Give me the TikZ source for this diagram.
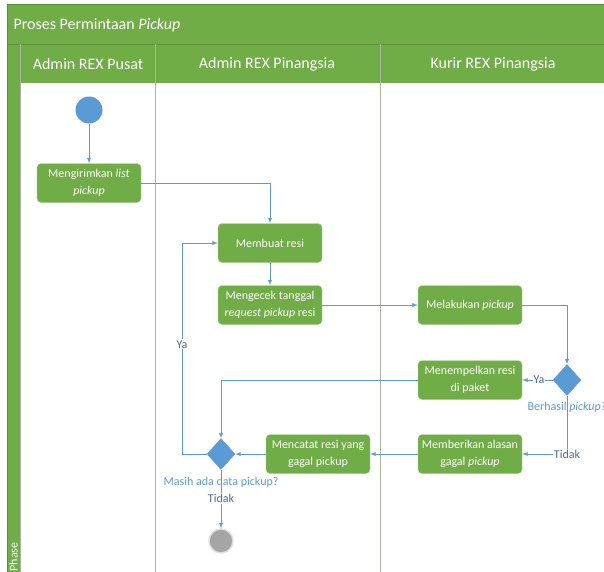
\documentclass[tikz,border=0pt]{standalone}
\usepackage{fontspec}
\setmainfont{Carlito}
\usetikzlibrary{shapes.geometric, positioning, arrows}
\definecolor{lanegreen}{HTML}{70AD47}
\definecolor{edgegreen}{HTML}{5A8F38}
\definecolor{flowblue}{HTML}{5B9BD5}
\definecolor{lblblue}{HTML}{4D6D93}
\definecolor{lanegray}{HTML}{A9B4A2}
\definecolor{endgray}{HTML}{A5A5A5}
\tikzset{
    >=latex,
    node distance=2cm,
    activity/.style={rectangle, rounded corners=4pt, fill=lanegreen, draw=lanegreen!55!white,
        text=white, minimum width=104pt, minimum height=39pt, inner sep=2pt, align=center,
        font=\fontsize{12}{16.5}\selectfont},
    decision/.style={diamond, fill=flowblue, draw=flowblue, inner sep=0pt,
        minimum width=28pt, minimum height=31pt},
    initialdot/.style={circle, fill=flowblue, inner sep=0pt, minimum size=27pt},
    finaldot/.style={circle, fill=endgray, draw=gray!25, line width=1.5pt, inner sep=0pt, minimum size=24pt},
    flow/.style={->, color=flowblue, line width=0.9pt},
    guard/.style={text=lblblue, fill=white, inner sep=1pt, font=\fontsize{12}{14}\selectfont},
    question/.style={text=flowblue, font=\fontsize{12}{14}\selectfont},
    lanetext/.style={text=white, font=\fontsize{16}{18}\selectfont},
    hv/.style={to path={-| (\tikztotarget) \tikztonodes}},
    vh/.style={to path={|- (\tikztotarget) \tikztonodes}},
}

\begin{document}
\begin{tikzpicture}[x=1pt, y=-1pt]
    \useasboundingbox (0,0) rectangle (604,571);

    % pool and lanes
    \fill[lanegreen] (7,4) rectangle (620,83);
    \fill[lanegreen] (7,83) rectangle (20,600);
    \draw[edgegreen, line width=0.6pt] (7,600) -- (7,4) -- (620,4);
    \draw[edgegreen, line width=0.6pt] (7,44) -- (620,44);
    \draw[lanegray, line width=0.8pt] (20,44) -- (20,600);
    \draw[lanegray, line width=1pt] (155,44) -- (155,600);
    \draw[lanegray, line width=1pt] (380,44) -- (380,600);

    \node[lanetext, anchor=west] (title) at (10,25) {Proses Permintaan \textit{Pickup}};
    \node[lanetext] (lane1) at (88,64) {Admin REX Pusat};
    \node[lanetext] (lane2) at (267,64) {Admin REX Pinangsia};
    \node[lanetext] (lane3) at (493,64) {Kurir REX Pinangsia};
    \node[text=white, rotate=90, font=\fontsize{12}{14}\selectfont] (phase) at (13.5,557) {Phase};

    % activities
    \node[initialdot] (start) at (89,110) {};
    \node[activity, below of=start, node distance=73pt] (send) {Mengirimkan \textit{list}\\\textit{pickup}};
    \node[activity] (buat) at (270,243) {Membuat resi};
    \node[activity, below of=buat, node distance=62pt] (cek) {Mengecek tanggal\\\textit{request pickup} resi};
    \node[activity, right of=cek, node distance=200pt] (ambil) {Melakukan \textit{pickup}};
    \node[decision] (berhasil) at (567,380) {};
    \node[activity, left of=berhasil, node distance=97pt] (tempel) {Menempelkan resi\\di paket};
    \node[activity, below of=tempel, node distance=74pt] (alasan) {Memberikan alasan\\gagal \textit{pickup}};
    \node[activity, left of=alasan, node distance=152pt] (catat) {Mencatat resi yang\\gagal pickup};
    \node[decision, left of=catat, node distance=97pt] (masih) {};
    \node[finaldot, below of=masih, node distance=87pt] (finish) {};
    \coordinate[left of=masih, node distance=39pt] (loopc);

    \path[flow]
        (start) edge (send)
        (send.east) edge[hv] (buat.north)
        (buat) edge (cek)
        (cek) edge (ambil)
        (ambil.east) edge[hv] (berhasil.north)
        (berhasil) edge node[guard, pos=0.45] {Ya} (tempel)
        (berhasil.south) edge[vh] node[guard] {Tidak} (alasan.east)
        (tempel.west) edge[hv] (masih.north)
        (alasan) edge (catat)
        (catat) edge (masih)
        (masih) edge node[guard, pos=0.49] {Tidak} (finish);
    \draw[flow] (masih.west) -- (loopc) |- node[guard, pos=0.26] {Ya} (buat.west);

    \node[question, below of=berhasil, node distance=27pt] (berhasilq) {Berhasil \textit{pickup?}};
    \node[question, below of=masih, node distance=28pt] (masihq) {Masih ada data pickup?};
\end{tikzpicture}
\end{document}
